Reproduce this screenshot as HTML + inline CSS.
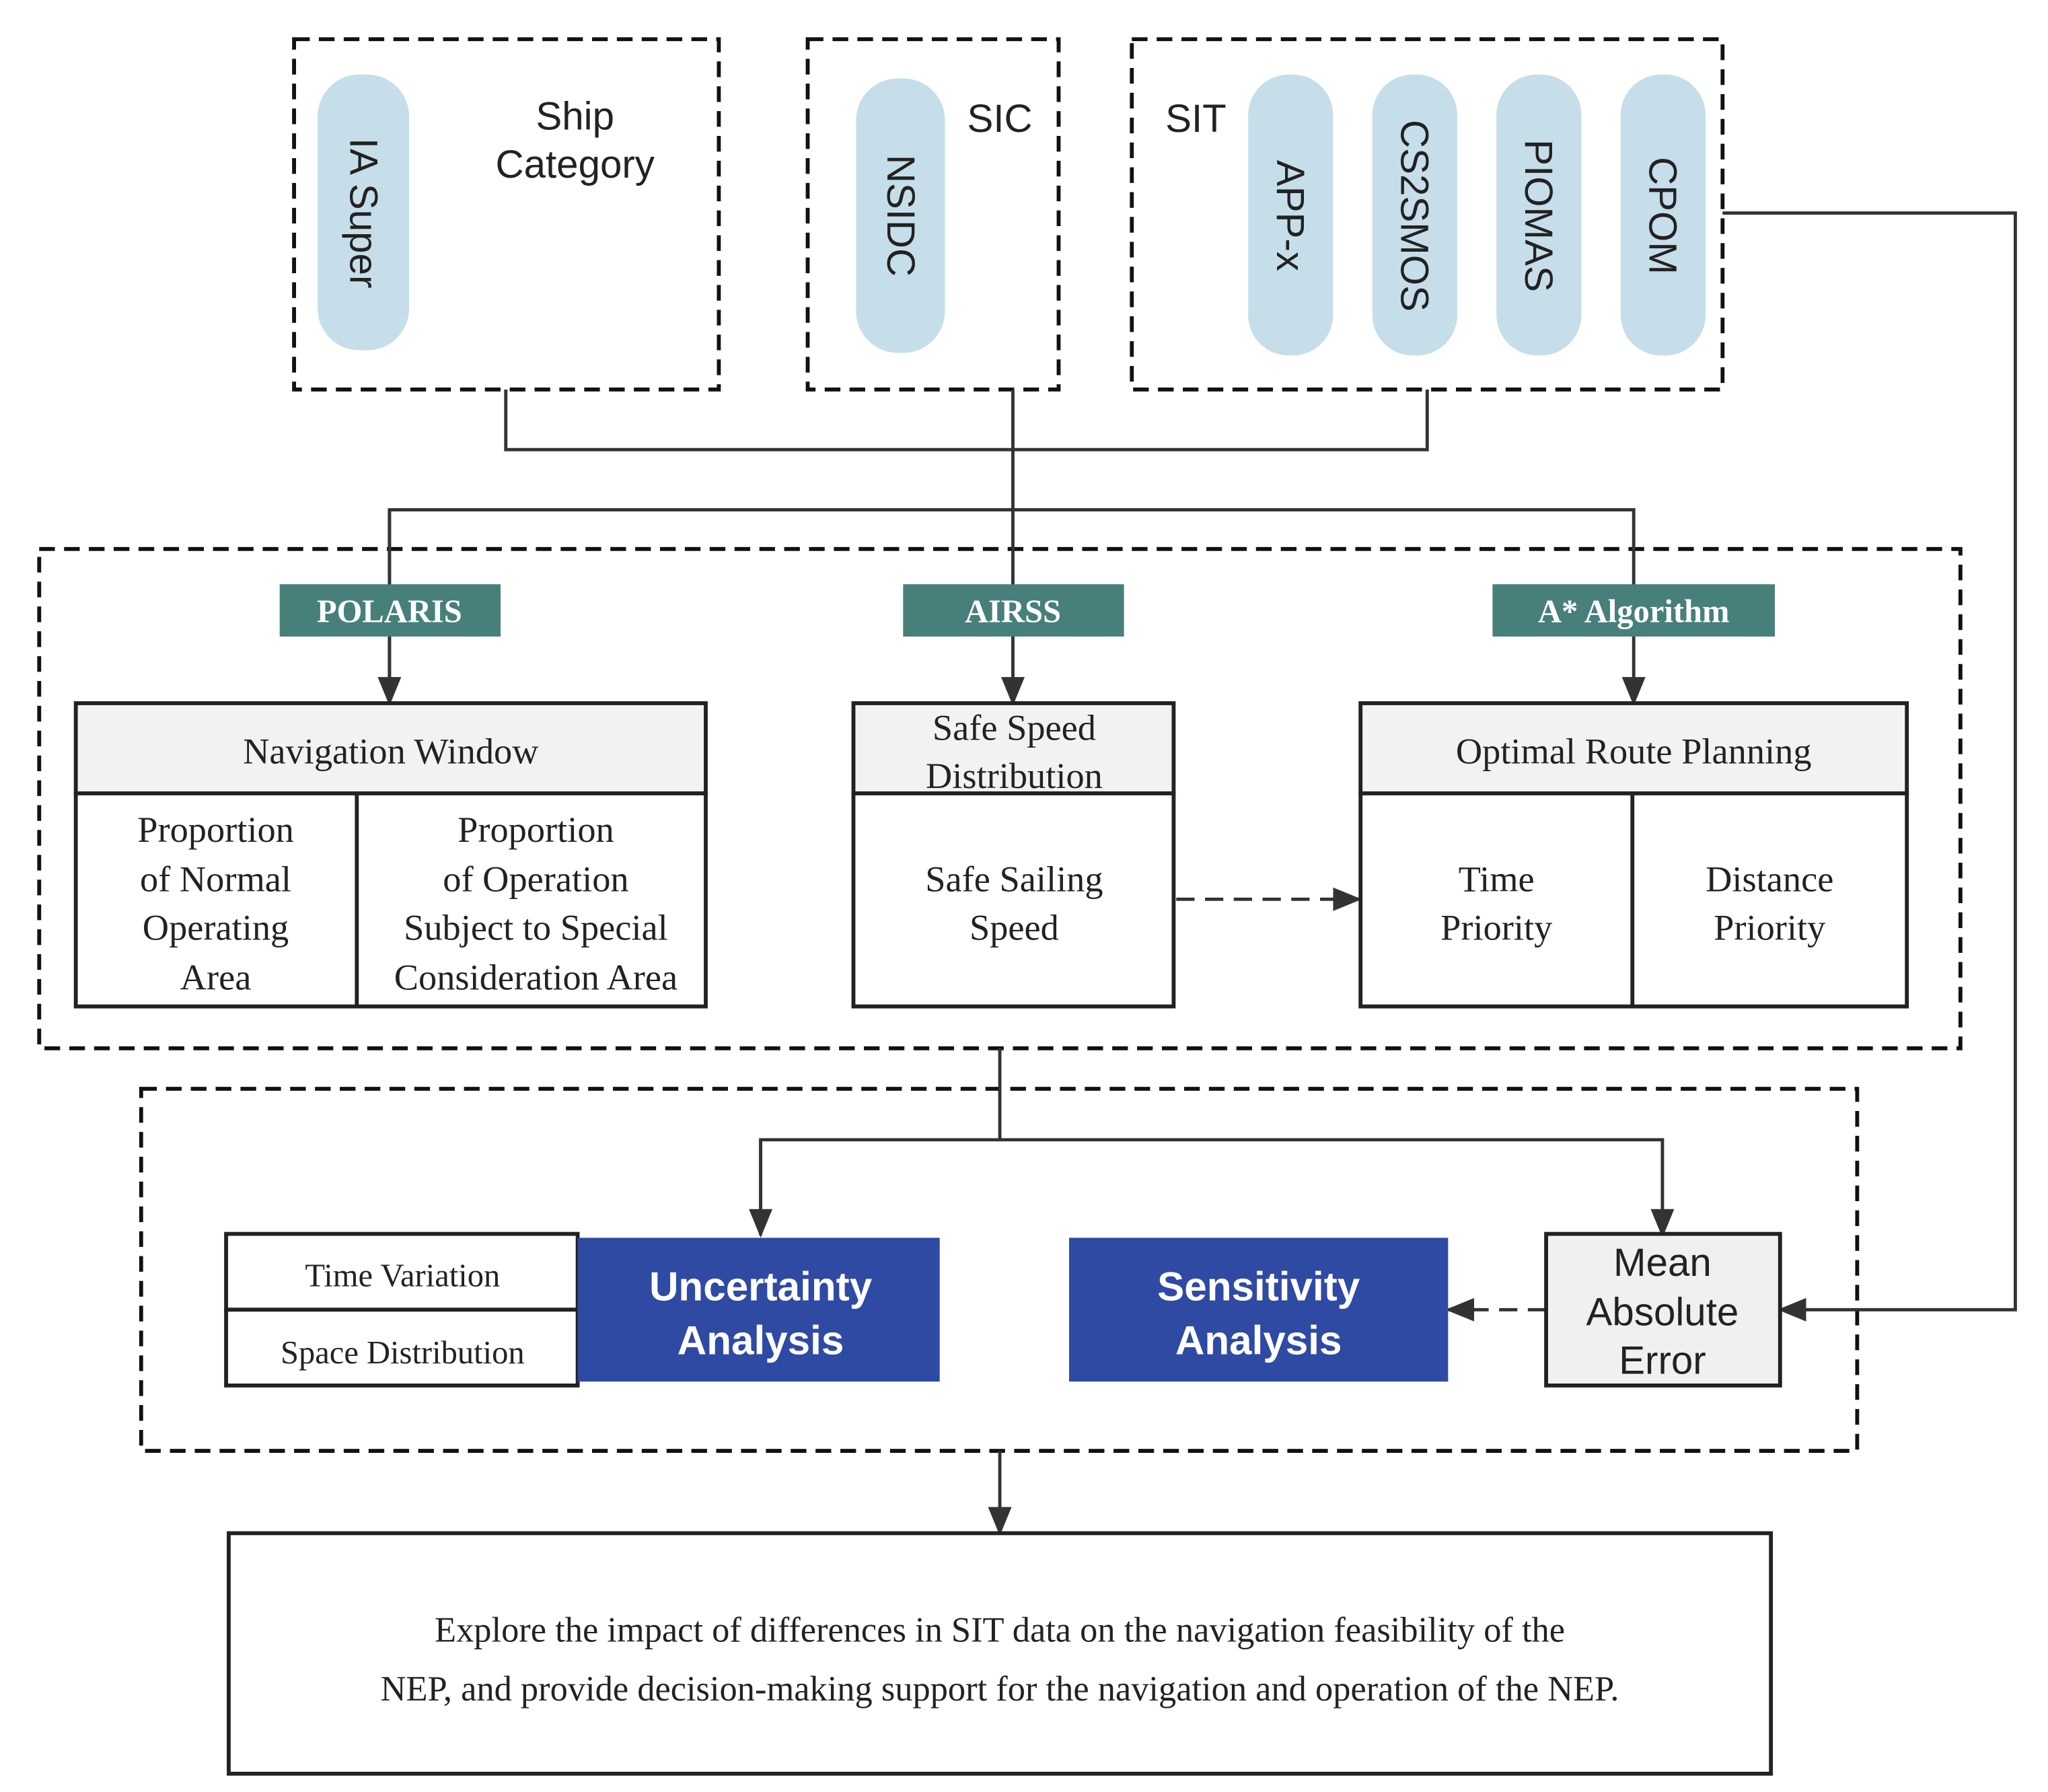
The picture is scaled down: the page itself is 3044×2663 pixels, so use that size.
<!DOCTYPE html>
<html><head><meta charset="utf-8"><style>
html,body{margin:0;padding:0;background:#fff;}
svg{display:block;}
.s{font-family:"Liberation Sans",sans-serif;fill:#222;}
.r{font-family:"Liberation Serif",serif;fill:#222;}
</style></head><body>
<svg width="3044" height="2663" viewBox="0 0 1567 1371" preserveAspectRatio="none" xmlns="http://www.w3.org/2000/svg">
<defs>
<marker id="b" markerWidth="22" markerHeight="22" refX="20" refY="11" orient="auto" markerUnits="userSpaceOnUse" viewBox="0 0 22 22">
<path d="M0,2 L22,11 L0,20 z" fill="#333"/></marker>
</defs>
<g fill="none" stroke="#111" stroke-width="3" stroke-dasharray="12,7">
<rect x="225" y="30" width="325" height="268"/>
<rect x="618" y="30" width="192" height="268"/>
<rect x="866" y="30" width="452" height="268"/>
<rect x="30" y="420" width="1470" height="382"/>
<rect x="108" y="833" width="1313" height="277"/>
</g>
<g fill="#c6dee9">
<rect x="243" y="57" width="70" height="211" rx="32"/>
<rect x="655" y="60" width="68" height="210" rx="32"/>
<rect x="955" y="57" width="65" height="215" rx="31"/>
<rect x="1050" y="57" width="65" height="215" rx="31"/>
<rect x="1145" y="57" width="65" height="215" rx="31"/>
<rect x="1240" y="57" width="65" height="215" rx="31"/>
</g>
<g class="s" font-size="30" text-anchor="middle" dominant-baseline="central">
<text transform="translate(278,163) rotate(90)">IA Super</text>
<text transform="translate(689,165) rotate(90)">NSIDC</text>
<text transform="translate(987,165) rotate(90)">APP-x</text>
<text transform="translate(1082,165) rotate(90)">CS2SMOS</text>
<text transform="translate(1177,165) rotate(90)">PIOMAS</text>
<text transform="translate(1272,165) rotate(90)">CPOM</text>
</g>
<g class="s" font-size="30" text-anchor="middle">
<text x="440" y="99">Ship</text><text x="440" y="136">Category</text>
<text x="765" y="101">SIC</text>
<text x="915" y="101">SIT</text>
</g>
<g fill="none" stroke="#333" stroke-width="2.5">
<path d="M387,298 V344 H1092 V298"/>
<path d="M775,298 V538" marker-end="url(#b)"/>
<path d="M298,538 V390 H1250 V538" marker-end="url(#b)"/>
<path d="M298,390 V538" marker-end="url(#b)"/>
<path d="M1318,163 H1542 V1002 H1362" marker-end="url(#b)"/>
<path d="M900,688 H1040" stroke-dasharray="14,8" marker-end="url(#b)"/>
<path d="M765,802 V872"/>
<path d="M582,945 V872 H1272 V945" marker-end="url(#b)"/>
<path d="M582,872 V945" marker-end="url(#b)"/>
<path d="M1183,1002 H1108" stroke-dasharray="14,8" marker-end="url(#b)"/>
<path d="M765,1110 V1173" marker-end="url(#b)"/>
</g>
<g fill="#477f7b">
<rect x="214" y="447" width="169" height="40"/>
<rect x="691" y="447" width="169" height="40"/>
<rect x="1142" y="447" width="216" height="40"/>
</g>
<g class="r" font-size="25" font-weight="bold" text-anchor="middle" style="fill:#fff">
<text x="298" y="476">POLARIS</text>
<text x="775" y="476">AIRSS</text>
<text x="1250" y="476">A*  Algorithm</text>
</g>
<g stroke="#222" stroke-width="3">
<rect x="58" y="538" width="482" height="69" fill="#f2f2f2"/>
<rect x="58" y="607" width="482" height="163" fill="#fff"/>
<line x1="273" y1="607" x2="273" y2="770"/>
<rect x="653" y="538" width="245" height="69" fill="#f2f2f2"/>
<rect x="653" y="607" width="245" height="163" fill="#fff"/>
<rect x="1041" y="538" width="418" height="69" fill="#f2f2f2"/>
<rect x="1041" y="607" width="418" height="163" fill="#fff"/>
<line x1="1249" y1="607" x2="1249" y2="770"/>
<rect x="173" y="944" width="269" height="58" fill="#fff"/>
<rect x="173" y="1002" width="269" height="58" fill="#fff"/>
<rect x="1183" y="944" width="179" height="116" fill="#f0f0f0"/>
<rect x="175" y="1173" width="1180" height="184" fill="#fff"/>
</g>
<rect x="442" y="947" width="277" height="110" fill="#2f4aa3"/>
<rect x="818" y="947" width="290" height="110" fill="#2f4aa3"/>
<g class="r" font-size="28" text-anchor="middle">
<text x="299" y="584">Navigation Window</text>
<text x="776" y="566">Safe Speed</text><text x="776" y="603">Distribution</text>
<text x="1250" y="584">Optimal Route Planning</text>
<text x="165" y="644">Proportion</text><text x="165" y="682">of Normal</text><text x="165" y="719">Operating</text><text x="165" y="757">Area</text>
<text x="410" y="644">Proportion</text><text x="410" y="682">of Operation</text><text x="410" y="719">Subject to Special</text><text x="410" y="757">Consideration Area</text>
<text x="776" y="682">Safe Sailing</text><text x="776" y="719">Speed</text>
<text x="1145" y="682">Time</text><text x="1145" y="719">Priority</text>
<text x="1354" y="682">Distance</text><text x="1354" y="719">Priority</text>
<text x="308" y="984" font-size="25">Time Variation</text>
<text x="308" y="1043" font-size="25">Space Distribution</text>
<text x="765" y="1256" font-size="27">Explore the impact of differences in SIT data on the navigation feasibility of the</text>
<text x="765" y="1301" font-size="27">NEP, and provide decision-making support for the navigation and operation of the NEP.</text>
</g>
<g class="s" font-size="31" font-weight="bold" text-anchor="middle" style="fill:#fff">
<text x="582" y="995">Uncertainty</text><text x="582" y="1036">Analysis</text>
<text x="963" y="995">Sensitivity</text><text x="963" y="1036">Analysis</text>
</g>
<g class="s" font-size="30" text-anchor="middle">
<text x="1272" y="976">Mean</text><text x="1272" y="1014">Absolute</text><text x="1272" y="1051">Error</text>
</g>
</svg>
</body></html>
